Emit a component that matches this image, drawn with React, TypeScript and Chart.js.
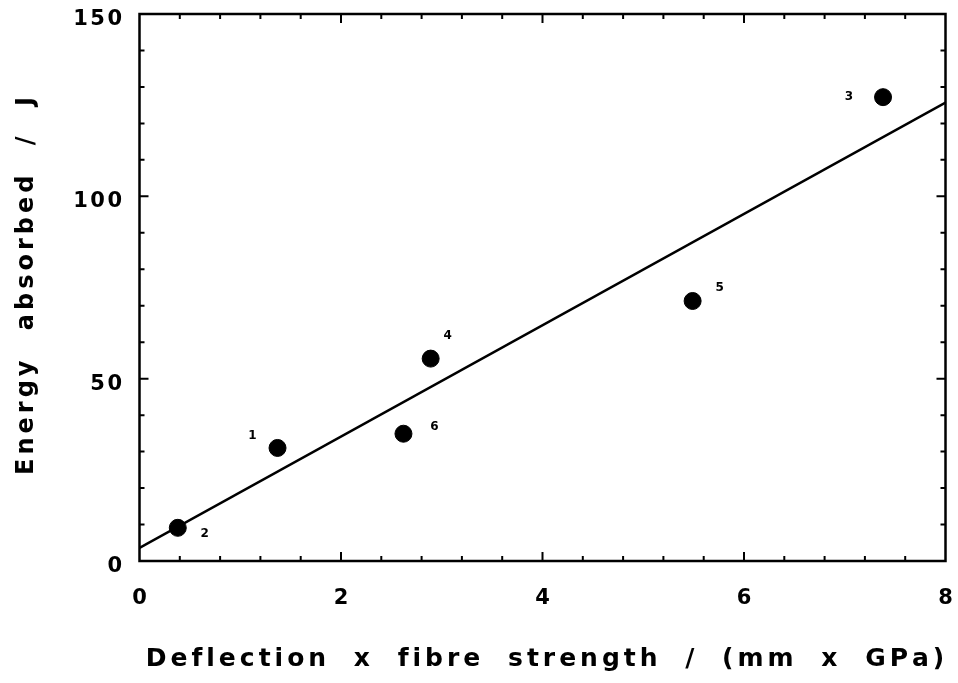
import React, { useEffect, useRef } from "react";
import { Chart, registerables } from "chart.js";

Chart.register(...registerables);

// ---- data ----
const pointX = [1.37, 0.38, 7.38, 2.89, 5.49, 2.62];
const pointY = [31.0, 9.1, 127.2, 55.5, 71.3, 34.9];
const pointLabels = ["1", "2", "3", "4", "5", "6"];
const fitX = [0, 8];
const fitY = [3.6, 125.7];
const xTickValues = [0, 2, 4, 6, 8];
const yTickValues = [0, 50, 100, 150];
const xTitle = "Deflection x fibre strength / (mm x GPa)";
const yTitle = "Energy absorbed / J";

// label placement relative to each point (px)
const labelOffsets: [number, number][] = [
  [-25, -12],
  [27, 6],
  [-34, 0],
  [17, -23],
  [27, -13],
  [31, -7],
];

const FONT = '"DejaVu Sans", "Liberation Sans", Arial, sans-serif';

function spacedWidth(ctx: CanvasRenderingContext2D, text: string, ls: number, ws: number) {
  let w = 0;
  for (let i = 0; i < text.length; i++) {
    const ch = text[i];
    w += ctx.measureText(ch).width;
    if (i < text.length - 1) w += ls + (ch === " " ? ws : 0);
  }
  return w;
}

function drawSpaced(ctx: CanvasRenderingContext2D, text: string, x: number, y: number, ls: number, ws: number) {
  let cx = x;
  for (let i = 0; i < text.length; i++) {
    const ch = text[i];
    ctx.fillText(ch, cx, y);
    cx += ctx.measureText(ch).width + ls + (ch === " " ? ws : 0);
  }
}

const framePlugin = {
  id: "framePlugin",
  afterDraw(chart: any) {
    const ctx: CanvasRenderingContext2D = chart.ctx;
    const { left, right, top, bottom } = chart.chartArea;
    const xs = chart.scales.x;
    const ys = chart.scales.y;
    ctx.save();
    ctx.strokeStyle = "#000";
    ctx.fillStyle = "#000";
    ctx.lineWidth = 2.5;
    ctx.strokeRect(left, top, right - left, bottom - top);

    // ticks (inward)
    ctx.lineWidth = 2;
    ctx.beginPath();
    for (let i = 1; i < 20; i++) {
      const px = xs.getPixelForValue(i * 0.4);
      const len = i % 5 === 0 ? 9 : 5;
      ctx.moveTo(px, bottom);
      ctx.lineTo(px, bottom - len);
      ctx.moveTo(px, top);
      ctx.lineTo(px, top + len);
    }
    for (let i = 1; i < 15; i++) {
      const py = ys.getPixelForValue(i * 10);
      const len = i % 5 === 0 ? 9 : 5;
      ctx.moveTo(left, py);
      ctx.lineTo(left + len, py);
      ctx.moveTo(right, py);
      ctx.lineTo(right - len, py);
    }
    ctx.stroke();

    // tick labels
    ctx.font = `bold 21px ${FONT}`;
    ctx.textBaseline = "alphabetic";
    ctx.textAlign = "left";
    for (const v of xTickValues) {
      const t = String(v);
      const w = spacedWidth(ctx, t, 2.5, 0);
      drawSpaced(ctx, t, xs.getPixelForValue(v) - w / 2, 604, 2.5, 0);
    }
    for (const v of yTickValues) {
      const t = String(v);
      const w = spacedWidth(ctx, t, 2.5, 0);
      drawSpaced(ctx, t, 122 - w, ys.getPixelForValue(v) + 11, 2.5, 0);
    }

    // x title
    ctx.font = `bold 25px ${FONT}`;
    const xw = spacedWidth(ctx, xTitle, 4, 11);
    drawSpaced(ctx, xTitle, 545 - xw / 2, 666, 4, 11);

    // y title
    ctx.font = `bold 24px ${FONT}`;
    const yw = spacedWidth(ctx, yTitle, 4, 14);
    ctx.save();
    ctx.translate(33, 286);
    ctx.rotate(-Math.PI / 2);
    drawSpaced(ctx, yTitle, -yw / 2, 0, 4, 14);
    ctx.restore();

    // point labels
    ctx.font = `bold 12px ${FONT}`;
    ctx.textAlign = "center";
    ctx.textBaseline = "middle";
    for (let i = 0; i < pointLabels.length; i++) {
      const px = xs.getPixelForValue(pointX[i]) + labelOffsets[i][0];
      const py = ys.getPixelForValue(pointY[i]) + labelOffsets[i][1];
      ctx.fillText(pointLabels[i], px, py);
    }
    ctx.restore();
  },
};

export default function App() {
  const ref = useRef<HTMLCanvasElement | null>(null);
  useEffect(() => {
    document.body.style.margin = "0";
    const canvas = ref.current;
    if (!canvas) return;
    const chart = new Chart(canvas, {
      type: "scatter",
      data: {
        datasets: [
          {
            label: "points",
            data: pointX.map((x, i) => ({ x, y: pointY[i] })),
            backgroundColor: "#000",
            borderColor: "#000",
            pointRadius: 8.5,
            pointHoverRadius: 8.5,
            showLine: false,
            order: 0,
          },
          {
            label: "fit",
            data: fitX.map((x, i) => ({ x, y: fitY[i] })),
            borderColor: "#000",
            borderWidth: 2.5,
            pointRadius: 0,
            showLine: true,
            order: 1,
          },
        ],
      },
      options: {
        animation: false,
        responsive: false,
        devicePixelRatio: 1,
        layout: { padding: { top: 14, right: 12.5, left: 0, bottom: 0 } },
        plugins: { legend: { display: false }, tooltip: { enabled: false } },
        scales: {
          x: {
            type: "linear",
            min: 0,
            max: 8,
            grid: { display: false },
            border: { display: false },
            ticks: { display: false },
            afterFit: (s: any) => {
              s.height = 122;
            },
          },
          y: {
            type: "linear",
            min: 0,
            max: 150,
            grid: { display: false },
            border: { display: false },
            ticks: { display: false },
            afterFit: (s: any) => {
              s.width = 139.5;
            },
          },
        },
      },
      plugins: [framePlugin],
    } as any);
    return () => chart.destroy();
  }, []);
  return (
    <div style={{ width: 958, height: 683, position: "relative", background: "#fff" }}>
      <canvas ref={ref} width={958} height={683} style={{ display: "block" }} />
    </div>
  );
}
